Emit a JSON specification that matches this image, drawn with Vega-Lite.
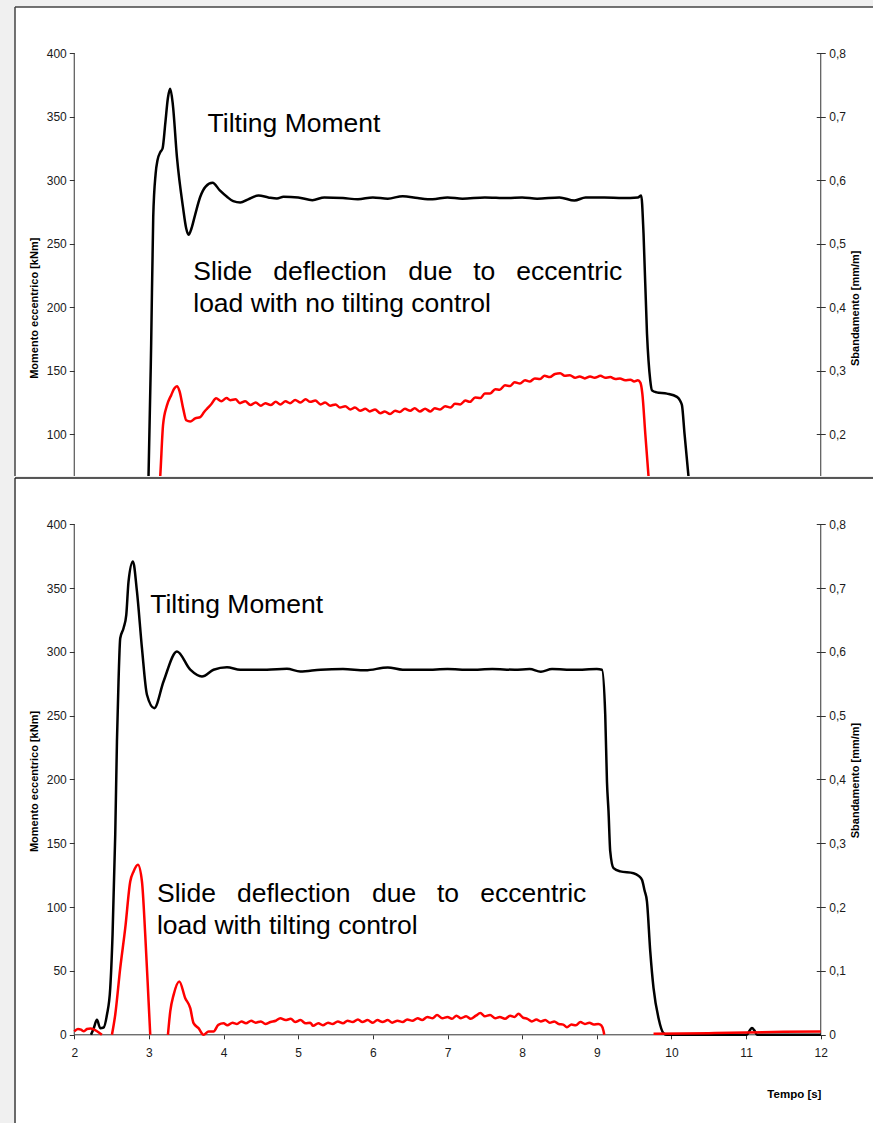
{
  "$schema": "https://vega.github.io/schema/vega-lite/v6.json",
  "background": "#f0f0f0",
  "padding": {"left": 14, "top": 6, "right": 0, "bottom": 0},
  "config": {
    "font": "Liberation Sans",
    "view": {"fill": "white", "stroke": null},
    "concat": {"spacing": 0},
    "axis": {
      "domain": false, "grid": false, "labelFont": "Liberation Sans", "labelFontSize": 12,
      "labelColor": "#1a1a1a", "tickColor": "#333", "tickWidth": 1,
      "titleFont": "Liberation Sans", "titleFontSize": 11, "titleFontWeight": "bold", "titleColor": "#000",
      "labelOverlap": false, "labelFlush": false
    }
  },
  "datasets": {
    "black_top": [
      {"t":2.0,"M":0},{"t":2.85,"M":0},{"t":2.93,"M":10},{"t":2.97,"M":35},{"t":2.995,"M":67},{"t":3.03,"M":170},{"t":3.058,"M":271},{"t":3.09,"M":305},{"t":3.116,"M":316},{"t":3.152,"M":322},{"t":3.183,"M":325},{"t":3.22,"M":345},{"t":3.255,"M":365},{"t":3.286,"M":372},{"t":3.32,"M":360},{"t":3.376,"M":318},{"t":3.456,"M":279},{"t":3.5,"M":262},{"t":3.531,"M":257},{"t":3.57,"M":262},{"t":3.62,"M":273},{"t":3.688,"M":287},{"t":3.76,"M":295},{"t":3.853,"M":298},{"t":3.95,"M":292},{"t":4.046,"M":287},{"t":4.13,"M":283.5},{"t":4.224,"M":282.4},{"t":4.33,"M":285},{"t":4.469,"M":288},{"t":4.6,"M":286.5},{"t":4.715,"M":285.6},{"t":4.804,"M":287},{"t":5.0,"M":286.5},{"t":5.19,"M":284.3},{"t":5.35,"M":286.5},{"t":5.6,"M":286},{"t":5.8,"M":285},{"t":6.0,"M":286.5},{"t":6.2,"M":285.5},{"t":6.4,"M":287.5},{"t":6.6,"M":286},{"t":6.8,"M":285},{"t":7.0,"M":286.5},{"t":7.2,"M":285.5},{"t":7.5,"M":286.5},{"t":7.8,"M":286},{"t":8.0,"M":286.5},{"t":8.2,"M":285.5},{"t":8.5,"M":286.5},{"t":8.7,"M":284},{"t":8.85,"M":286.5},{"t":9.1,"M":286.5},{"t":9.35,"M":286},{"t":9.55,"M":286.5},{"t":9.595,"M":288},{"t":9.626,"M":258},{"t":9.672,"M":179.5},{"t":9.716,"M":142.5},{"t":9.739,"M":134.6},{"t":9.8,"M":133},{"t":9.94,"M":132},{"t":10.074,"M":129.4},{"t":10.12,"M":126},{"t":10.141,"M":122.8},{"t":10.175,"M":100.5},{"t":10.229,"M":66.4},{"t":10.29,"M":30},{"t":10.35,"M":5},{"t":10.45,"M":0},{"t":12,"M":0}
    ],
    "red_top": [
      {"t":2.0,"s":0.005},{"t":2.95,"s":0.005},{"t":3.05,"s":0.03},{"t":3.152,"s":0.134},{"t":3.19,"s":0.215},{"t":3.241,"s":0.245},{"t":3.3,"s":0.262},{"t":3.34,"s":0.272},{"t":3.376,"s":0.2756},{"t":3.41,"s":0.268},{"t":3.46,"s":0.24},{"t":3.5,"s":0.222},{"t":3.554,"s":0.22},{"t":3.62,"s":0.225},{"t":3.688,"s":0.227},{"t":3.74,"s":0.235},{"t":3.777,"s":0.24},{"t":3.84,"s":0.248},
      {"t":3.9,"s":0.2566},{"t":3.97,"s":0.252},{"t":4.04,"s":0.257},{"t":4.09,"s":0.2536},{"t":4.16,"s":0.255},{"t":4.22,"s":0.249},{"t":4.29,"s":0.252},{"t":4.36,"s":0.246},{"t":4.43,"s":0.25},{"t":4.5,"s":0.245},{"t":4.56,"s":0.249},{"t":4.63,"s":0.246},{"t":4.7,"s":0.251},{"t":4.76,"s":0.247},{"t":4.83,"s":0.252},{"t":4.89,"s":0.249},{"t":4.96,"s":0.254},{"t":5.03,"s":0.25},{"t":5.1,"s":0.255},{"t":5.16,"s":0.251},{"t":5.23,"s":0.253},{"t":5.3,"s":0.247},{"t":5.36,"s":0.25},{"t":5.43,"s":0.245},{"t":5.5,"s":0.247},{"t":5.56,"s":0.242},{"t":5.63,"s":0.244},{"t":5.7,"s":0.239},{"t":5.76,"s":0.242},{"t":5.83,"s":0.237},{"t":5.9,"s":0.24},{"t":5.96,"s":0.236},{"t":6.03,"s":0.239},{"t":6.1,"s":0.233},{"t":6.16,"s":0.236},{"t":6.23,"s":0.232},{"t":6.3,"s":0.237},{"t":6.36,"s":0.235},{"t":6.43,"s":0.24},{"t":6.5,"s":0.237},{"t":6.56,"s":0.241},{"t":6.63,"s":0.236},{"t":6.7,"s":0.24},{"t":6.77,"s":0.236},{"t":6.83,"s":0.241},{"t":6.9,"s":0.239},{"t":6.97,"s":0.244},{"t":7.04,"s":0.242},{"t":7.1,"s":0.248},{"t":7.17,"s":0.247},{"t":7.24,"s":0.253},{"t":7.3,"s":0.251},{"t":7.37,"s":0.258},{"t":7.44,"s":0.257},{"t":7.5,"s":0.264},{"t":7.57,"s":0.264},{"t":7.64,"s":0.271},{"t":7.7,"s":0.27},{"t":7.77,"s":0.277},{"t":7.84,"s":0.276},{"t":7.9,"s":0.282},{"t":7.97,"s":0.28},{"t":8.04,"s":0.285},{"t":8.1,"s":0.283},{"t":8.17,"s":0.288},{"t":8.24,"s":0.287},{"t":8.3,"s":0.292},{"t":8.37,"s":0.29},{"t":8.44,"s":0.295},{"t":8.51,"s":0.296},{"t":8.57,"s":0.292},{"t":8.64,"s":0.293},{"t":8.71,"s":0.289},{"t":8.77,"s":0.291},{"t":8.84,"s":0.288},{"t":8.91,"s":0.291},{"t":8.97,"s":0.289},{"t":9.05,"s":0.292},{"t":9.11,"s":0.289},{"t":9.18,"s":0.29},{"t":9.25,"s":0.287},{"t":9.31,"s":0.288},{"t":9.38,"s":0.285},{"t":9.45,"s":0.286},{"t":9.5,"s":0.283},{"t":9.55,"s":0.285},{"t":9.585,"s":0.281},{"t":9.61,"s":0.264},{"t":9.65,"s":0.2},{"t":9.693,"s":0.1338},{"t":9.75,"s":0.05},{"t":9.8,"s":0.005},{"t":12,"s":0.005}
    ],
    "black_bot": [
      {"t":2.224,"M":0},{"t":2.26,"M":5},{"t":2.304,"M":11.7},{"t":2.348,"M":5.2},{"t":2.393,"M":5.7},{"t":2.438,"M":15.7},{"t":2.482,"M":36.5},{"t":2.513,"M":78.3},{"t":2.549,"M":156.7},{"t":2.572,"M":229.8},{"t":2.593,"M":276.8},{"t":2.616,"M":310.7},{"t":2.66,"M":318.5},{"t":2.697,"M":329},{"t":2.727,"M":355.1},{"t":2.786,"M":370.8},{"t":2.84,"M":347.3},{"t":2.907,"M":302.9},{"t":2.974,"M":266.4},{"t":3.072,"M":255.9},{"t":3.196,"M":276.8},{"t":3.376,"M":300.3},{"t":3.554,"M":286},{"t":3.711,"M":280.7},{"t":3.866,"M":286},{"t":4.046,"M":288},{"t":4.224,"M":286},{"t":4.581,"M":286},{"t":4.849,"M":286.7},{"t":5.027,"M":284.6},{"t":5.3,"M":286},{"t":5.6,"M":286.5},{"t":5.9,"M":285.5},{"t":6.2,"M":287.8},{"t":6.4,"M":286},{"t":6.7,"M":286},{"t":7.0,"M":286.5},{"t":7.3,"M":286},{"t":7.6,"M":286.5},{"t":7.9,"M":286},{"t":8.1,"M":286.5},{"t":8.25,"M":284.5},{"t":8.4,"M":286.5},{"t":8.7,"M":286},{"t":9.0,"M":286.5},{"t":9.069,"M":286},{"t":9.113,"M":250.7},{"t":9.136,"M":198.4},{"t":9.157,"M":175},{"t":9.18,"M":143.6},{"t":9.224,"M":130.5},{"t":9.314,"M":128},{"t":9.492,"M":126.6},{"t":9.56,"M":124.5},{"t":9.605,"M":121.4},{"t":9.64,"M":113},{"t":9.672,"M":104.4},{"t":9.716,"M":65.3},{"t":9.76,"M":36.5},{"t":9.827,"M":13},{"t":9.894,"M":1.2},{"t":9.94,"M":0},{"t":11.011,"M":0},{"t":11.05,"M":3.5},{"t":11.078,"M":5.3},{"t":11.11,"M":3.5},{"t":11.145,"M":0},{"t":12,"M":0}
    ],
    "red_bot": [
      {"g":"a","t":2.0,"s":0.0052},{"g":"a","t":2.05,"s":0.009},{"g":"a","t":2.09,"s":0.008},{"g":"a","t":2.13,"s":0.0056},{"g":"a","t":2.17,"s":0.009},{"g":"a","t":2.22,"s":0.01},{"g":"a","t":2.26,"s":0.0084},{"g":"a","t":2.3,"s":0.006},{"g":"a","t":2.37,"s":0},
      {"g":"b","t":2.505,"s":0},{"g":"b","t":2.549,"s":0.0314},{"g":"b","t":2.616,"s":0.1044},{"g":"b","t":2.683,"s":0.167},{"g":"b","t":2.75,"s":0.2402},{"g":"b","t":2.795,"s":0.256},{"g":"b","t":2.853,"s":0.2664},{"g":"b","t":2.907,"s":0.2402},{"g":"b","t":2.951,"s":0.1566},{"g":"b","t":2.996,"s":0.052},{"g":"b","t":3.018,"s":0},
      {"g":"c","t":3.255,"s":0},{"g":"c","t":3.286,"s":0.0366},{"g":"c","t":3.331,"s":0.0626},{"g":"c","t":3.407,"s":0.0836},{"g":"c","t":3.487,"s":0.0574},{"g":"c","t":3.554,"s":0.0418},{"g":"c","t":3.598,"s":0.0182},{"g":"c","t":3.665,"s":0.0104},{"g":"c","t":3.732,"s":0},{"g":"c","t":3.8,"s":0.0052},{"g":"c","t":3.866,"s":0.0052},
      {"g":"c","t":3.93,"s":0.0156},{"g":"c","t":4.0,"s":0.018},{"g":"c","t":4.05,"s":0.015},{"g":"c","t":4.12,"s":0.019},{"g":"c","t":4.18,"s":0.017},{"g":"c","t":4.24,"s":0.021},{"g":"c","t":4.3,"s":0.018},{"g":"c","t":4.37,"s":0.022},{"g":"c","t":4.43,"s":0.019},{"g":"c","t":4.5,"s":0.021},{"g":"c","t":4.56,"s":0.017},{"g":"c","t":4.63,"s":0.02},{"g":"c","t":4.7,"s":0.022},{"g":"c","t":4.76,"s":0.026},{"g":"c","t":4.83,"s":0.023},{"g":"c","t":4.9,"s":0.025},{"g":"c","t":4.96,"s":0.02},{"g":"c","t":5.03,"s":0.023},{"g":"c","t":5.1,"s":0.018},{"g":"c","t":5.16,"s":0.019},{"g":"c","t":5.2,"s":0.014},{"g":"c","t":5.27,"s":0.018},{"g":"c","t":5.33,"s":0.015},{"g":"c","t":5.4,"s":0.019},{"g":"c","t":5.46,"s":0.017},{"g":"c","t":5.53,"s":0.021},{"g":"c","t":5.6,"s":0.018},{"g":"c","t":5.66,"s":0.022},{"g":"c","t":5.73,"s":0.02},{"g":"c","t":5.8,"s":0.024},{"g":"c","t":5.86,"s":0.02},{"g":"c","t":5.93,"s":0.023},{"g":"c","t":6.0,"s":0.019},{"g":"c","t":6.06,"s":0.023},{"g":"c","t":6.13,"s":0.02},{"g":"c","t":6.2,"s":0.023},{"g":"c","t":6.26,"s":0.019},{"g":"c","t":6.33,"s":0.022},{"g":"c","t":6.4,"s":0.02},{"g":"c","t":6.46,"s":0.024},{"g":"c","t":6.53,"s":0.022},{"g":"c","t":6.6,"s":0.026},{"g":"c","t":6.66,"s":0.023},{"g":"c","t":6.73,"s":0.028},{"g":"c","t":6.8,"s":0.026},{"g":"c","t":6.86,"s":0.031},{"g":"c","t":6.93,"s":0.026},{"g":"c","t":7.0,"s":0.028},{"g":"c","t":7.06,"s":0.025},{"g":"c","t":7.12,"s":0.03},{"g":"c","t":7.18,"s":0.026},{"g":"c","t":7.25,"s":0.029},{"g":"c","t":7.31,"s":0.025},{"g":"c","t":7.38,"s":0.03},{"g":"c","t":7.44,"s":0.034},{"g":"c","t":7.5,"s":0.029},{"g":"c","t":7.57,"s":0.031},{"g":"c","t":7.64,"s":0.026},{"g":"c","t":7.7,"s":0.028},{"g":"c","t":7.77,"s":0.025},{"g":"c","t":7.84,"s":0.03},{"g":"c","t":7.9,"s":0.028},{"g":"c","t":7.95,"s":0.033},{"g":"c","t":8.01,"s":0.027},{"g":"c","t":8.07,"s":0.025},{"g":"c","t":8.13,"s":0.021},{"g":"c","t":8.19,"s":0.024},{"g":"c","t":8.25,"s":0.021},{"g":"c","t":8.31,"s":0.023},{"g":"c","t":8.37,"s":0.019},{"g":"c","t":8.43,"s":0.021},{"g":"c","t":8.49,"s":0.017},{"g":"c","t":8.55,"s":0.016},{"g":"c","t":8.6,"s":0.012},{"g":"c","t":8.66,"s":0.016},{"g":"c","t":8.72,"s":0.015},{"g":"c","t":8.78,"s":0.02},{"g":"c","t":8.84,"s":0.017},{"g":"c","t":8.9,"s":0.019},{"g":"c","t":8.96,"s":0.016},{"g":"c","t":9.02,"s":0.017},{"g":"c","t":9.06,"s":0.0146},{"g":"c","t":9.09,"s":0.006},{"g":"c","t":9.1,"s":0},
      {"g":"d","t":9.76,"s":0.0016},{"g":"d","t":10.5,"s":0.0026},{"g":"d","t":11.0,"s":0.0036},{"g":"d","t":11.5,"s":0.0046},{"g":"d","t":12.0,"s":0.0052}
    ],
    "notes_top": [
      {"t":3.786,"M":338.0,"label":"Tilting Moment"},
      {"t":3.594,"M":221.8,"label":"Slide"},
      {"t":4.666,"M":221.8,"label":"deflection"},
      {"t":6.474,"M":221.8,"label":"due"},
      {"t":7.345,"M":221.8,"label":"to"},
      {"t":7.921,"M":221.8,"label":"eccentric"},
      {"t":3.594,"M":196.3,"label":"load with no tilting control"}
    ],
    "notes_bot": [
      {"t":3.018,"M":330.3,"label":"Tilting Moment"},
      {"t":3.108,"M":104.4,"label":"Slide"},
      {"t":4.18,"M":104.4,"label":"deflection"},
      {"t":5.988,"M":104.4,"label":"due"},
      {"t":6.859,"M":104.4,"label":"to"},
      {"t":7.439,"M":104.4,"label":"eccentric"},
      {"t":3.108,"M":78.8,"label":"load with tilting control"}
    ]
  },
  "resolve": {"scale": {"x": "independent", "y": "independent"}, "axis": {"x": "independent", "y": "independent"}},
  "vconcat": [
    {
      "width": 858,
      "height": 469,
      "resolve": {"scale": {"y": "independent"}, "axis": {"y": "independent"}},
      "layer": [
        {
          "layer": [
            {
              "data": {"values": [{}]},
              "mark": {"type": "rule", "color": "#444", "strokeWidth": 1.5},
              "encoding": {
                "x": {"datum": 1.2063, "type": "quantitative", "scale": {"domain": [1.2063, 12.6999], "nice": false, "zero": false}, "axis": null},
                "y": {"datum": 436.42, "type": "quantitative", "scale": {"domain": [67.13, 436.42], "nice": false, "zero": false},
                  "axis": {"orient": "left", "offset": -59.25, "values": [100, 150, 200, 250, 300, 350, 400], "tickSize": 5, "labelPadding": 3, "title": "Momento eccentrico [kNm]", "titleX": -40, "titleY": 300.75, "titleAngle": -90, "titleAlign": "center", "titleBaseline": "middle"}},
                "y2": {"datum": 67.13}
              }
            },
            {
              "data": {"values": [{}]},
              "mark": {"type": "rule", "color": "#444", "strokeWidth": 1.5},
              "encoding": {
                "x": {"datum": 1.2063, "type": "quantitative", "axis": null},
                "x2": {"datum": 12.6999},
                "y": {"datum": 436.42, "type": "quantitative",
                  "axis": {"orient": "left", "offset": -59.25, "values": [100, 150, 200, 250, 300, 350, 400], "tickSize": 5, "labelPadding": 3, "title": "Momento eccentrico [kNm]", "titleX": -40, "titleY": 300.75, "titleAngle": -90, "titleAlign": "center", "titleBaseline": "middle"}}
              }
            },
            {
              "data": {"values": [{}]},
              "mark": {"type": "rule", "color": "#333", "strokeWidth": 1, "clip": true},
              "encoding": {
                "x": {"datum": 2, "type": "quantitative", "axis": null},
                "y": {"datum": 400, "type": "quantitative",
                  "axis": {"orient": "left", "offset": -59.25, "values": [100, 150, 200, 250, 300, 350, 400], "tickSize": 5, "labelPadding": 3, "title": "Momento eccentrico [kNm]", "titleX": -40, "titleY": 300.75, "titleAngle": -90, "titleAlign": "center", "titleBaseline": "middle"}},
                "y2": {"datum": 0}
              }
            },
            {
              "data": {"values": [{}]},
              "mark": {"type": "rule", "color": "#333", "strokeWidth": 1, "clip": true},
              "encoding": {
                "x": {"datum": 12, "type": "quantitative", "axis": null},
                "y": {"datum": 400, "type": "quantitative",
                  "axis": {"orient": "left", "offset": -59.25, "values": [100, 150, 200, 250, 300, 350, 400], "tickSize": 5, "labelPadding": 3, "title": "Momento eccentrico [kNm]", "titleX": -40, "titleY": 300.75, "titleAngle": -90, "titleAlign": "center", "titleBaseline": "middle"}},
                "y2": {"datum": 0}
              }
            },
            {
              "data": {"name": "black_top"},
              "mark": {"type": "line", "color": "#000", "strokeWidth": 2.5, "interpolate": "monotone", "clip": true},
              "encoding": {
                "x": {"field": "t", "type": "quantitative", "axis": null},
                "y": {"field": "M", "type": "quantitative",
                  "axis": {"orient": "left", "offset": -59.25, "values": [100, 150, 200, 250, 300, 350, 400], "tickSize": 5, "labelPadding": 3, "title": "Momento eccentrico [kNm]", "titleX": -40, "titleY": 300.75, "titleAngle": -90, "titleAlign": "center", "titleBaseline": "middle"}}
              }
            },
            {
              "data": {"name": "notes_top"},
              "mark": {"type": "text", "align": "left", "baseline": "alphabetic", "fontSize": 26.5, "font": "Liberation Sans", "color": "#000"},
              "encoding": {
                "x": {"field": "t", "type": "quantitative", "axis": null},
                "y": {"field": "M", "type": "quantitative",
                  "axis": {"orient": "left", "offset": -59.25, "values": [100, 150, 200, 250, 300, 350, 400], "tickSize": 5, "labelPadding": 3, "title": "Momento eccentrico [kNm]", "titleX": -40, "titleY": 300.75, "titleAngle": -90, "titleAlign": "center", "titleBaseline": "middle"}},
                "text": {"field": "label"}
              }
            }
          ]
        },
        {
          "data": {"name": "red_top"},
          "mark": {"type": "line", "color": "#ff0000", "strokeWidth": 2.5, "interpolate": "monotone", "clip": true},
          "encoding": {
            "x": {"field": "t", "type": "quantitative", "axis": null},
            "y": {
              "field": "s", "type": "quantitative",
              "scale": {"domain": [0.13426, 0.87284], "nice": false, "zero": false},
              "axis": {
                "orient": "right", "offset": -56.75, "values": [0.2, 0.3, 0.4, 0.5, 0.6, 0.7, 0.8],
                "tickSize": 9, "labelPadding": 3.5,
                "labelExpr": "datum.value == 0 ? '0' : replace(format(datum.value, '.1f'), '.', ',')",
                "title": "Sbandamento [mm/m]", "titleX": 39.3, "titleY": 300.75,
                "titleAngle": -90, "titleAlign": "center", "titleBaseline": "middle"
              }
            }
          }
        }
      ]
    },
    {
      "width": 858,
      "height": 646,
      "resolve": {"scale": {"y": "independent"}, "axis": {"y": "independent"}},
      "layer": [
        {
          "layer": [
            {
              "data": {"values": [{}]},
              "mark": {"type": "rule", "color": "#6a6a6a", "strokeWidth": 2},
              "encoding": {
                "x": {"datum": 1.2063, "type": "quantitative", "scale": {"domain": [1.2063, 12.6999], "nice": false, "zero": false},
                  "axis": {"orient": "bottom", "offset": -89.2, "values": [2, 3, 4, 5, 6, 7, 8, 9, 10, 11, 12], "tickSize": 4, "labelPadding": 9, "title": "Tempo [s]", "titleX": 805.95, "titleY": 62.7, "titleAlign": "right", "titleBaseline": "alphabetic", "titleFontSize": 11.5}},
                "y": {"datum": 436.19, "type": "quantitative", "scale": {"domain": [-69.88, 436.19], "nice": false, "zero": false},
                  "axis": {"orient": "left", "offset": -59.25, "values": [0, 50, 100, 150, 200, 250, 300, 350, 400], "tickSize": 5, "labelPadding": 3, "title": "Momento eccentrico [kNm]", "titleX": -40, "titleY": 303, "titleAngle": -90, "titleAlign": "center", "titleBaseline": "middle"}},
                "y2": {"datum": -69.88}
              }
            },
            {
              "data": {"values": [{}]},
              "mark": {"type": "rule", "color": "#222", "strokeWidth": 1.5},
              "encoding": {
                "x": {"datum": 1.2063, "type": "quantitative",
                  "axis": {"orient": "bottom", "offset": -89.2, "values": [2, 3, 4, 5, 6, 7, 8, 9, 10, 11, 12], "tickSize": 4, "labelPadding": 9, "title": "Tempo [s]", "titleX": 805.95, "titleY": 62.7, "titleAlign": "right", "titleBaseline": "alphabetic", "titleFontSize": 11.5}},
                "x2": {"datum": 12.6999},
                "y": {"datum": 436.19, "type": "quantitative",
                  "axis": {"orient": "left", "offset": -59.25, "values": [0, 50, 100, 150, 200, 250, 300, 350, 400], "tickSize": 5, "labelPadding": 3, "title": "Momento eccentrico [kNm]", "titleX": -40, "titleY": 303, "titleAngle": -90, "titleAlign": "center", "titleBaseline": "middle"}}
              }
            },
            {
              "data": {"values": [{}]},
              "mark": {"type": "rule", "color": "#333", "strokeWidth": 1},
              "encoding": {
                "x": {"datum": 2, "type": "quantitative",
                  "axis": {"orient": "bottom", "offset": -89.2, "values": [2, 3, 4, 5, 6, 7, 8, 9, 10, 11, 12], "tickSize": 4, "labelPadding": 9, "title": "Tempo [s]", "titleX": 805.95, "titleY": 62.7, "titleAlign": "right", "titleBaseline": "alphabetic", "titleFontSize": 11.5}},
                "y": {"datum": 400, "type": "quantitative",
                  "axis": {"orient": "left", "offset": -59.25, "values": [0, 50, 100, 150, 200, 250, 300, 350, 400], "tickSize": 5, "labelPadding": 3, "title": "Momento eccentrico [kNm]", "titleX": -40, "titleY": 303, "titleAngle": -90, "titleAlign": "center", "titleBaseline": "middle"}},
                "y2": {"datum": 0}
              }
            },
            {
              "data": {"values": [{}]},
              "mark": {"type": "rule", "color": "#333", "strokeWidth": 1},
              "encoding": {
                "x": {"datum": 12, "type": "quantitative",
                  "axis": {"orient": "bottom", "offset": -89.2, "values": [2, 3, 4, 5, 6, 7, 8, 9, 10, 11, 12], "tickSize": 4, "labelPadding": 9, "title": "Tempo [s]", "titleX": 805.95, "titleY": 62.7, "titleAlign": "right", "titleBaseline": "alphabetic", "titleFontSize": 11.5}},
                "y": {"datum": 400, "type": "quantitative",
                  "axis": {"orient": "left", "offset": -59.25, "values": [0, 50, 100, 150, 200, 250, 300, 350, 400], "tickSize": 5, "labelPadding": 3, "title": "Momento eccentrico [kNm]", "titleX": -40, "titleY": 303, "titleAngle": -90, "titleAlign": "center", "titleBaseline": "middle"}},
                "y2": {"datum": 0}
              }
            },
            {
              "data": {"values": [{}]},
              "mark": {"type": "rule", "color": "#333", "strokeWidth": 1},
              "encoding": {
                "x": {"datum": 2, "type": "quantitative",
                  "axis": {"orient": "bottom", "offset": -89.2, "values": [2, 3, 4, 5, 6, 7, 8, 9, 10, 11, 12], "tickSize": 4, "labelPadding": 9, "title": "Tempo [s]", "titleX": 805.95, "titleY": 62.7, "titleAlign": "right", "titleBaseline": "alphabetic", "titleFontSize": 11.5}},
                "x2": {"datum": 12},
                "y": {"datum": 0, "type": "quantitative",
                  "axis": {"orient": "left", "offset": -59.25, "values": [0, 50, 100, 150, 200, 250, 300, 350, 400], "tickSize": 5, "labelPadding": 3, "title": "Momento eccentrico [kNm]", "titleX": -40, "titleY": 303, "titleAngle": -90, "titleAlign": "center", "titleBaseline": "middle"}}
              }
            },
            {
              "data": {"name": "black_bot"},
              "mark": {"type": "line", "color": "#000", "strokeWidth": 2.5, "interpolate": "monotone", "clip": true},
              "encoding": {
                "x": {"field": "t", "type": "quantitative",
                  "axis": {"orient": "bottom", "offset": -89.2, "values": [2, 3, 4, 5, 6, 7, 8, 9, 10, 11, 12], "tickSize": 4, "labelPadding": 9, "title": "Tempo [s]", "titleX": 805.95, "titleY": 62.7, "titleAlign": "right", "titleBaseline": "alphabetic", "titleFontSize": 11.5}},
                "y": {"field": "M", "type": "quantitative",
                  "axis": {"orient": "left", "offset": -59.25, "values": [0, 50, 100, 150, 200, 250, 300, 350, 400], "tickSize": 5, "labelPadding": 3, "title": "Momento eccentrico [kNm]", "titleX": -40, "titleY": 303, "titleAngle": -90, "titleAlign": "center", "titleBaseline": "middle"}}
              }
            },
            {
              "data": {"name": "notes_bot"},
              "mark": {"type": "text", "align": "left", "baseline": "alphabetic", "fontSize": 26.5, "font": "Liberation Sans", "color": "#000"},
              "encoding": {
                "x": {"field": "t", "type": "quantitative",
                  "axis": {"orient": "bottom", "offset": -89.2, "values": [2, 3, 4, 5, 6, 7, 8, 9, 10, 11, 12], "tickSize": 4, "labelPadding": 9, "title": "Tempo [s]", "titleX": 805.95, "titleY": 62.7, "titleAlign": "right", "titleBaseline": "alphabetic", "titleFontSize": 11.5}},
                "y": {"field": "M", "type": "quantitative",
                  "axis": {"orient": "left", "offset": -59.25, "values": [0, 50, 100, 150, 200, 250, 300, 350, 400], "tickSize": 5, "labelPadding": 3, "title": "Momento eccentrico [kNm]", "titleX": -40, "titleY": 303, "titleAngle": -90, "titleAlign": "center", "titleBaseline": "middle"}},
                "text": {"field": "label"}
              }
            }
          ]
        },
        {
          "data": {"name": "red_bot"},
          "mark": {"type": "line", "color": "#ff0000", "strokeWidth": 2.5, "interpolate": "monotone", "clip": true},
          "encoding": {
            "x": {"field": "t", "type": "quantitative",
              "axis": {"orient": "bottom", "offset": -89.2, "values": [2, 3, 4, 5, 6, 7, 8, 9, 10, 11, 12], "tickSize": 4, "labelPadding": 9, "title": "Tempo [s]", "titleX": 805.95, "titleY": 62.7, "titleAlign": "right", "titleBaseline": "alphabetic", "titleFontSize": 11.5}},
            "detail": {"field": "g"},
            "y": {
              "field": "s", "type": "quantitative",
              "scale": {"domain": [-0.13976, 0.87238], "nice": false, "zero": false},
              "axis": {
                "orient": "right", "offset": -56.75, "values": [0, 0.1, 0.2, 0.3, 0.4, 0.5, 0.6, 0.7, 0.8],
                "tickSize": 9, "labelPadding": 3.5,
                "labelExpr": "datum.value == 0 ? '0' : replace(format(datum.value, '.1f'), '.', ',')",
                "title": "Sbandamento [mm/m]", "titleX": 39.3, "titleY": 302,
                "titleAngle": -90, "titleAlign": "center", "titleBaseline": "middle"
              }
            }
          }
        }
      ]
    }
  ]
}
